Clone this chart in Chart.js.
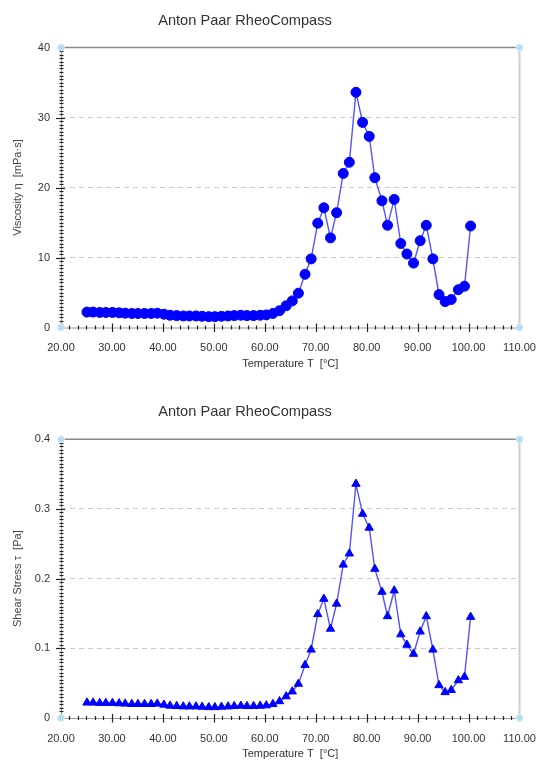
<!DOCTYPE html>
<html><head><meta charset="utf-8">
<script src="https://cdn.jsdelivr.net/npm/chart.js@4.4.1/dist/chart.umd.min.js"></script>
<style>
html,body{margin:0;padding:0;background:#fff;overflow:hidden;}
canvas{display:block;}
</style></head><body>
<canvas id="c1" width="549" height="391"></canvas>
<canvas id="c2" width="549" height="372"></canvas>
<script>
const chartTitle = "Anton Paar RheoCompass";
const temperature = [25.1,26.3,27.6,28.8,30.1,31.4,32.6,33.9,35.1,36.4,37.7,38.9,40.2,41.4,42.7,44.0,45.2,46.5,47.7,49.0,50.2,51.5,52.8,54.0,55.3,56.5,57.8,59.1,60.3,61.6,62.9,64.2,65.4,66.6,67.9,69.1,70.4,71.6,72.9,74.1,75.4,76.6,77.9,79.2,80.5,81.6,83.0,84.1,85.4,86.7,87.9,89.2,90.5,91.7,93.0,94.2,95.4,96.6,98.0,99.2,100.4];
const viscosity = [2.2,2.2,2.15,2.15,2.15,2.1,2.05,2.0,2.0,2.0,2.0,2.05,1.9,1.75,1.7,1.65,1.65,1.65,1.6,1.55,1.55,1.6,1.65,1.7,1.75,1.7,1.7,1.75,1.8,2.0,2.4,3.1,3.8,4.9,7.6,9.8,14.9,17.1,12.8,16.4,22.0,23.6,33.6,29.3,27.3,21.4,18.1,14.6,18.3,12.0,10.5,9.2,12.4,14.6,9.8,4.7,3.7,4.0,5.4,5.9,14.5];
const shearStress = [0.022,0.022,0.0215,0.0215,0.0215,0.021,0.0205,0.020,0.020,0.020,0.020,0.0205,0.019,0.0175,0.017,0.0165,0.0165,0.0165,0.016,0.0155,0.0155,0.016,0.0165,0.017,0.0175,0.017,0.017,0.0175,0.018,0.020,0.024,0.031,0.038,0.049,0.076,0.098,0.149,0.171,0.128,0.164,0.220,0.236,0.336,0.293,0.273,0.214,0.181,0.146,0.183,0.120,0.105,0.092,0.124,0.146,0.098,0.047,0.037,0.040,0.054,0.059,0.145];
const xTickValues = [20,30,40,50,60,70,80,90,100,110];
const viscosityTicks = [0,10,20,30,40];
const stressTicks = [0,0.1,0.2,0.3,0.4];

const FONT = '"Liberation Sans", Arial, sans-serif';
Chart.defaults.font.family = FONT;

const chromePlugin = {
  id: 'chrome',
  beforeDatasetsDraw(chart, args, o) {
    const ctx = chart.ctx, a = chart.chartArea, xs = chart.scales.x, ys = chart.scales.y;
    ctx.save();
    ctx.strokeStyle = '#8a8a8a'; ctx.lineWidth = 1.6;
    ctx.beginPath(); ctx.moveTo(a.left, a.top); ctx.lineTo(a.right, a.top); ctx.stroke();
    ctx.strokeStyle = '#d0d0d0'; ctx.lineWidth = 2.2;
    ctx.beginPath(); ctx.moveTo(a.right, a.top); ctx.lineTo(a.right, a.bottom); ctx.stroke();
    ctx.strokeStyle = '#9a9a9a'; ctx.lineWidth = 1;
    ctx.beginPath(); ctx.moveTo(a.left, a.bottom + 0.5); ctx.lineTo(a.right, a.bottom + 0.5); ctx.stroke();
    ctx.beginPath(); ctx.moveTo(a.left + 0.5, a.top); ctx.lineTo(a.left + 0.5, a.bottom); ctx.stroke();
    ctx.strokeStyle = '#222'; ctx.lineWidth = 1.2;
    const yb = a.bottom + 0.5;
    for (let k = 1; k < 54; k++) {
      const px = Math.round(xs.getPixelForValue(20 + k * 10 / 6)) + 0.5;
      ctx.beginPath();
      if (k % 6 === 0) { ctx.moveTo(px, yb - 4.5); ctx.lineTo(px, yb + 4); }
      else { ctx.moveTo(px, yb - 2.5); ctx.lineTo(px, yb + 1.5); }
      ctx.stroke();
    }
    const n = o.minorCount, step = o.minorStep;
    for (let k = 1; k < n; k++) {
      const py = Math.round(ys.getPixelForValue(k * step)) + 0.5;
      ctx.beginPath();
      if (k % 20 === 0) { ctx.moveTo(a.left - 5, py); ctx.lineTo(a.left + 4, py); }
      else { ctx.moveTo(a.left - 1.5, py); ctx.lineTo(a.left + 2.5, py); }
      ctx.stroke();
    }
    ctx.restore();
  },
  afterDraw(chart, args, o) {
    const ctx = chart.ctx, a = chart.chartArea;
    ctx.save();
    ctx.fillStyle = '#b6deec'; ctx.strokeStyle = '#d6eef6'; ctx.lineWidth = 1;
    [[a.left, a.top], [a.right, a.top], [a.left, a.bottom], [a.right, a.bottom]].forEach(([x, y]) => {
      ctx.beginPath(); ctx.arc(x, y, 3.5, 0, Math.PI * 2); ctx.fill(); ctx.stroke();
    });
    ctx.fillStyle = '#333';
    ctx.font = '14.6px ' + FONT;
    ctx.textAlign = 'center'; ctx.textBaseline = 'middle';
    ctx.fillText(chartTitle, 245, o.titleY);
    ctx.restore();
  }
};

function makeChart(id, yValues, yTicks, yTitle, style, cfg) {
  const points = temperature.map((t, i) => ({ x: t, y: yValues[i] }));
  const gridVals = yTicks.slice(1, -1);
  return new Chart(document.getElementById(id), {
    type: 'scatter',
    data: { datasets: [{
      data: points, showLine: true, tension: 0,
      borderColor: '#5252ff', borderWidth: 1.4,
      pointStyle: style, pointRadius: cfg.pointRadius, pointHoverRadius: cfg.pointRadius,
      pointBackgroundColor: '#0000ff', pointBorderColor: '#0000ff', pointBorderWidth: 1
    }] },
    options: {
      responsive: false, animation: false, devicePixelRatio: 1,
      layout: { padding: { top: cfg.top, right: 29.5, left: 0, bottom: 0 } },
      plugins: { legend: { display: false }, tooltip: { enabled: false }, title: { display: false },
        chrome: { titleY: cfg.titleY, minorCount: 80, minorStep: yTicks[yTicks.length - 1] / 80 } },
      scales: {
        x: {
          type: 'linear', min: 20, max: 110,
          afterBuildTicks: s => { s.ticks = xTickValues.map(v => ({ value: v })); },
          afterFit: s => { s.height = cfg.xHeight; },
          ticks: { callback: v => Number(v).toFixed(2), color: '#333', font: { size: 11 }, padding: 6, maxRotation: 0, autoSkip: false },
          grid: { display: false }, border: { display: false },
          title: { display: true, text: 'Temperature T  [°C]', color: '#333', font: { size: 11 }, padding: { top: 0, bottom: cfg.xTitlePad } }
        },
        y: {
          type: 'linear', min: yTicks[0], max: yTicks[yTicks.length - 1],
          afterBuildTicks: s => { s.ticks = yTicks.map(v => ({ value: v })); },
          afterFit: s => { s.width = 61; },
          ticks: { color: '#333', font: { size: 11 }, padding: 11 },
          grid: { drawTicks: false, lineWidth: 1,
            color: c => (c.tick && gridVals.some(g => Math.abs(g - c.tick.value) < 1e-9)) ? '#c9c9c9' : 'rgba(0,0,0,0)' },
          border: { display: false, dash: [5, 4] },
          title: { display: true, text: yTitle, color: '#444', font: { size: 11 }, padding: { top: 11.4, bottom: 0 } }
        }
      }
    },
    plugins: [chromePlugin]
  });
}

makeChart('c1', viscosity, viscosityTicks, 'Viscosity η  [mPa·s]', 'circle',
  { top: 47.5, xHeight: 63.5, xTitlePad: 20.4, titleY: 21, pointRadius: 5 });
makeChart('c2', shearStress, stressTicks, 'Shear Stress τ  [Pa]', 'triangle',
  { top: 48.3, xHeight: 45, xTitlePad: 2.4, titleY: 21, pointRadius: 4.8 });
</script>
</body></html>
